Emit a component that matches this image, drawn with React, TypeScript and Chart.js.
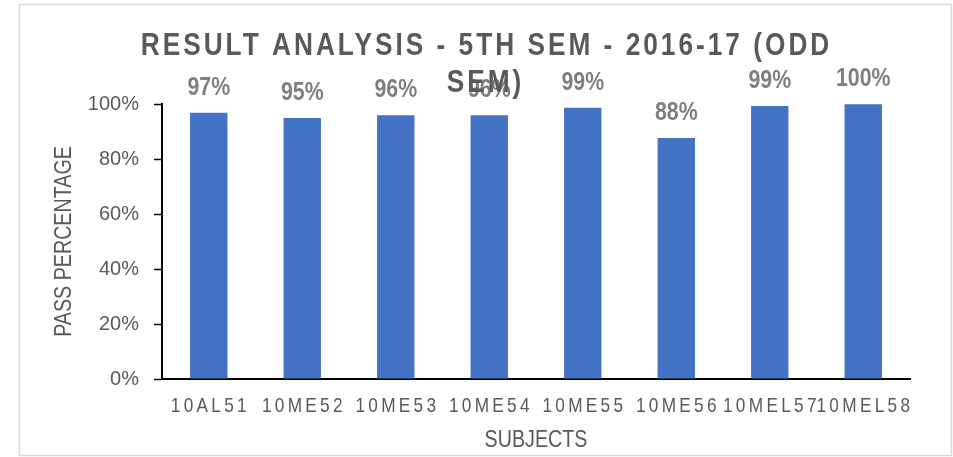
import React, { useEffect, useRef } from "react";
import { Chart, registerables } from "chart.js";

Chart.register(...registerables);

const subjects = ["10AL51", "10ME52", "10ME53", "10ME54", "10ME55", "10ME56", "10MEL57", "10MEL58"];
const passPercent = [96.8, 94.9, 95.9, 95.9, 98.6, 87.6, 99.3, 99.9];
const titleLines = ["RESULT ANALYSIS - 5TH SEM - 2016-17 (ODD", "SEM)"];
const xAxisTitle = "SUBJECTS";
const yAxisTitle = "PASS PERCENTAGE";
const yMax = 100;
const yStep = 20;

const FONT = '"Liberation Sans", Arial, sans-serif';
const TEXT_GRAY = "#595959";
const LABEL_GRAY = "#7f7f7f";
const BAR_BLUE = "#4472C4";
const NARROW = 0.82;

// Draw text horizontally condensed (emulates a "narrow" face) with optional letter spacing.
function narrowText(
  ctx: CanvasRenderingContext2D,
  text: string,
  x: number,
  y: number,
  spacing: number,
  rotation = 0
) {
  ctx.save();
  ctx.translate(x, y);
  if (rotation) ctx.rotate(rotation);
  ctx.scale(NARROW, 1);
  (ctx as any).letterSpacing = spacing / NARROW + "px";
  ctx.fillText(text, spacing / (2 * NARROW), 0);
  ctx.restore();
}

const decorPlugin = {
  id: "decor",
  beforeDraw(chart: any) {
    const ctx = chart.ctx as CanvasRenderingContext2D;
    ctx.save();
    ctx.fillStyle = "#ffffff";
    ctx.fillRect(0, 0, chart.width, chart.height);
    ctx.strokeStyle = "#d9d9d9";
    ctx.lineWidth = 1.5;
    ctx.strokeRect(19.5, 4.5, 932, 451);
    ctx.restore();
  },
  afterDatasetsDraw(chart: any) {
    const ctx = chart.ctx as CanvasRenderingContext2D;
    const meta = chart.getDatasetMeta(0);
    ctx.save();
    ctx.fillStyle = LABEL_GRAY;
    ctx.font = "bold 26px " + FONT;
    ctx.textAlign = "center";
    ctx.textBaseline = "alphabetic";
    meta.data.forEach((bar: any, i: number) => {
      narrowText(ctx, Math.round(passPercent[i]) + "%", bar.x, bar.y - 18, 0);
    });
    ctx.restore();
  },
  afterDraw(chart: any) {
    const ctx = chart.ctx as CanvasRenderingContext2D;
    const xScale = chart.scales.x;
    const yScale = chart.scales.y;
    const area = chart.chartArea;
    ctx.save();
    ctx.fillStyle = TEXT_GRAY;
    ctx.textAlign = "center";
    ctx.textBaseline = "alphabetic";
    // x tick labels (letter-spaced)
    ctx.font = "21px " + FONT;
    subjects.forEach((s, i) => {
      narrowText(ctx, s, xScale.getPixelForTick(i), 412, 3.3);
    });
    // axis titles
    ctx.font = "24px " + FONT;
    narrowText(ctx, xAxisTitle, (area.left + area.right) / 2, 447, 0);
    ctx.textBaseline = "middle";
    narrowText(ctx, yAxisTitle, 64, (yScale.top + yScale.bottom) / 2, 0, -Math.PI / 2);
    // title
    ctx.textBaseline = "alphabetic";
    ctx.font = "bold 32px " + FONT;
    narrowText(ctx, titleLines[0], 485, 55, 3);
    narrowText(ctx, titleLines[1], 484, 92, 3);
    ctx.restore();
  },
};

export default function App() {
  const ref = useRef<HTMLCanvasElement | null>(null);
  useEffect(() => {
    if (!ref.current) return;
    const chart = new Chart(ref.current, {
      type: "bar",
      data: {
        labels: subjects,
        datasets: [
          {
            data: passPercent,
            backgroundColor: BAR_BLUE,
            borderWidth: 0,
            categoryPercentage: 0.8,
            barPercentage: 0.5,
          },
        ],
      },
      options: {
        animation: false,
        responsive: false,
        devicePixelRatio: 1,
        layout: { padding: { left: 40, right: 43, top: 104, bottom: 0 } },
        plugins: { legend: { display: false }, tooltip: { enabled: false }, title: { display: false } },
        scales: {
          x: {
            grid: { display: false },
            border: { display: true, color: "#000000", width: 2 },
            ticks: { display: false },
            afterFit: (s: any) => {
              s.height = 78;
            },
          },
          y: {
            min: 0,
            max: yMax,
            grid: {
              display: true,
              drawOnChartArea: false,
              drawTicks: true,
              tickLength: 8,
              tickColor: "#000000",
              tickWidth: 1.5,
            },
            border: { display: true, color: "#000000", width: 2 },
            ticks: {
              stepSize: yStep,
              padding: 15,
              color: TEXT_GRAY,
              font: { family: FONT, size: 20 },
              callback: (v: any) => v + "%",
            },
            afterFit: (s: any) => {
              s.width = 122;
            },
          },
        },
      },
      plugins: [decorPlugin],
    });
    return () => chart.destroy();
  }, []);
  return (
    <div style={{ position: "absolute", left: 0, top: 0, width: 953, height: 457 }}>
      <canvas ref={ref} width={953} height={457} style={{ width: 953, height: 457, display: "block" }} />
    </div>
  );
}
